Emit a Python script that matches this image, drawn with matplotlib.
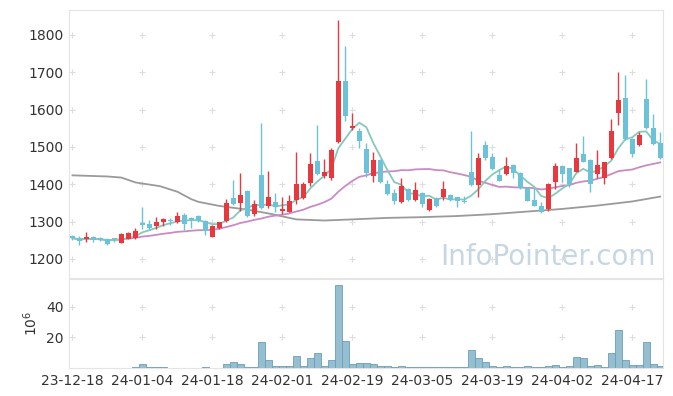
import numpy as np
import pandas as pd
import matplotlib
matplotlib.use('Agg')
import matplotlib.pyplot as plt

# daily candles, 23-12-18 .. 24-04-23 (trading days)
opens = [1262, 1257, 1254, 1258, 1257, 1253, 1256, 1244, 1254, 1255,
         1297, 1294, 1287, 1300, 1305, 1300, 1318, 1311, 1315, 1303,
         1260, 1282, 1302, 1364, 1351, 1382, 1320, 1425, 1343, 1352,
         1329, 1327, 1358, 1364, 1404, 1462, 1423, 1418, 1512, 1677,
         1552, 1544, 1495, 1423, 1465, 1401, 1376, 1352, 1387, 1358,
         1376, 1331, 1363, 1365, 1371, 1365, 1355, 1434, 1398, 1505,
         1474, 1425, 1428, 1452, 1431, 1389, 1358, 1342, 1334, 1405,
         1449, 1443, 1434, 1480, 1465, 1427, 1416, 1470, 1590, 1630,
         1521, 1505, 1629, 1552, 1510]
highs = [1265, 1262, 1271, 1262, 1258, 1255, 1257, 1269, 1271, 1282,
         1340, 1304, 1313, 1310, 1310, 1327, 1322, 1312, 1318, 1305,
         1291, 1300, 1360, 1411, 1431, 1384, 1358, 1565, 1435, 1376,
         1367, 1371, 1486, 1405, 1484, 1559, 1468, 1497, 1840, 1771,
         1590, 1550, 1510, 1486, 1467, 1412, 1387, 1416, 1390, 1405,
         1379, 1363, 1365, 1410, 1373, 1367, 1368, 1544, 1484, 1516,
         1484, 1440, 1472, 1454, 1433, 1392, 1389, 1353, 1403, 1456,
         1451, 1445, 1510, 1530, 1467, 1492, 1461, 1574, 1702, 1693,
         1523, 1541, 1682, 1588, 1539]
lows = [1250, 1237, 1246, 1245, 1248, 1238, 1246, 1243, 1253, 1253,
        1280, 1278, 1280, 1287, 1290, 1295, 1278, 1282, 1300, 1265,
        1258, 1280, 1300, 1345, 1329, 1313, 1316, 1333, 1336, 1327,
        1320, 1325, 1347, 1360, 1396, 1425, 1418, 1412, 1510, 1570,
        1546, 1497, 1420, 1405, 1403, 1371, 1347, 1349, 1355, 1354,
        1338, 1329, 1338, 1358, 1356, 1340, 1349, 1396, 1367, 1465,
        1438, 1409, 1425, 1416, 1387, 1354, 1342, 1324, 1329, 1388,
        1407, 1394, 1432, 1459, 1379, 1418, 1401, 1468, 1560, 1519,
        1474, 1503, 1548, 1505, 1468]
closes = [1256, 1248, 1258, 1251, 1251, 1239, 1254, 1266, 1269, 1276,
          1292, 1282, 1298, 1306, 1301, 1315, 1294, 1305, 1303, 1276,
          1287, 1298, 1349, 1347, 1371, 1316, 1346, 1336, 1366, 1338,
          1334, 1355, 1401, 1401, 1454, 1427, 1433, 1492, 1677, 1584,
          1556, 1517, 1431, 1465, 1405, 1374, 1354, 1396, 1358, 1385,
          1347, 1361, 1342, 1387, 1358, 1354, 1352, 1398, 1470, 1470,
          1441, 1410, 1449, 1430, 1390, 1356, 1342, 1325, 1401, 1449,
          1427, 1400, 1470, 1461, 1400, 1452, 1459, 1543, 1626, 1521,
          1480, 1532, 1550, 1507, 1470]
# volume, millions of shares
volumes = [0.3, 0.3, 0.3, 0.3, 0.3, 0.3, 0.3, 0.3, 0.3, 0.9,
           2.7, 0.9, 0.9, 0.9, 0.2, 0.2, 0.2, 0.2, 0.2, 0.9,
           0.2, 0.2, 2.9, 3.6, 2.9, 0.9, 0.9, 16.9, 4.9, 1.3,
           1.3, 1.3, 7.6, 1.3, 6.7, 10.0, 1.3, 4.9, 54.2, 17.6,
           2.7, 3.3, 3.3, 2.7, 1.3, 1.3, 0.7, 1.3, 0.7, 0.7,
           0.7, 0.7, 0.7, 0.7, 0.7, 0.7, 0.5, 12.0, 6.7, 4.2,
           1.3, 0.7, 1.3, 0.7, 0.7, 1.3, 0.7, 0.7, 1.3, 2.0,
           0.7, 1.3, 7.3, 6.7, 1.3, 2.0, 0.7, 10.0, 24.9, 5.3,
           2.2, 2.2, 16.9, 2.7, 1.5]
# long moving average (candle index, price)
long_ma_idx = [0, 5, 7, 9, 12.5, 15, 17, 18, 21, 25, 28, 32, 36, 40,
               45, 50, 55, 60, 65, 70, 75, 80, 84]
long_ma = [1424, 1421, 1418, 1405, 1395, 1380, 1360, 1353, 1342, 1332,
           1322, 1306, 1303, 1306, 1310, 1312, 1315, 1320, 1327, 1334,
           1343, 1354, 1367]
tick_labels = ['23-12-18', '24-01-04', '24-01-18', '24-02-01', '24-02-19',
               '24-03-05', '24-03-19', '24-04-02', '24-04-17']

RED = '#e8373d'
BLUE = '#6cc2d8'
TEXT = '#333333'
EDGE = '#e4e4e4'

o = np.array(opens, dtype=float)
h = np.array(highs, dtype=float)
l = np.array(lows, dtype=float)
c = np.array(closes, dtype=float)
x = np.arange(len(c))
up = c >= o
colors = np.where(up, RED, BLUE)

ma5 = pd.Series(c).rolling(5, min_periods=1).mean()
ma20 = pd.Series(c).rolling(20, min_periods=1).mean()

fig = plt.figure(figsize=(6.73, 3.96), dpi=100)
ax = fig.add_axes([0.1025, 0.298, 0.8826, 0.6768])
axv = fig.add_axes([0.1025, 0.0707, 0.8826, 0.2247], sharex=ax)

ax.plot(long_ma_idx, long_ma, color='#9a9a9a', lw=1.3, zorder=2)
ax.plot(x, ma20, color='#c98bc5', lw=1.3, zorder=2)
ax.plot(x, ma5, color='#86c9bb', lw=1.3, zorder=2)

ax.vlines(x, l, h, colors=colors, lw=1, zorder=3)
body = np.maximum(np.abs(c - o), 2)
ax.bar(x, body, bottom=np.minimum(o, c), width=0.7, color=colors,
       zorder=4, linewidth=0)

ax.set_ylim(1149, 1867)
ax.set_xlim(-0.5, 84.4)
yt = np.arange(1200, 1801, 100)
ax.set_yticks(yt)
xt = np.arange(len(tick_labels)) * 10
gx, gy = np.meshgrid(xt, yt)
ax.plot(gx.ravel(), gy.ravel(), '+', color='#dddddd', ms=5, mew=0.8, zorder=1)

ax.text(0.987, 0.025, 'InfoPointer.com', transform=ax.transAxes,
        ha='right', va='bottom', fontsize=20, color='#c6d7e3', zorder=0)

axv.bar(x, volumes, width=0.95, color='#95bfd0', edgecolor='#6b9fb6',
        linewidth=0.6, zorder=3)
axv.set_ylim(0, 58)
axv.set_yticks([20, 40])
gx, gy = np.meshgrid(xt, [20, 40])
axv.plot(gx.ravel(), gy.ravel(), '+', color='#dddddd', ms=5, mew=0.8, zorder=1)
axv.set_ylabel('$10^6$', fontsize=10, color=TEXT, labelpad=4)
axv.set_xticks(xt)
axv.set_xticklabels(tick_labels)

for a in (ax, axv):
    for s in a.spines.values():
        s.set_color(EDGE)
    a.tick_params(length=0, labelsize=10, colors=TEXT, pad=4)
ax.tick_params(axis='x', labelbottom=False)

fig.savefig('out.png', dpi=100)
